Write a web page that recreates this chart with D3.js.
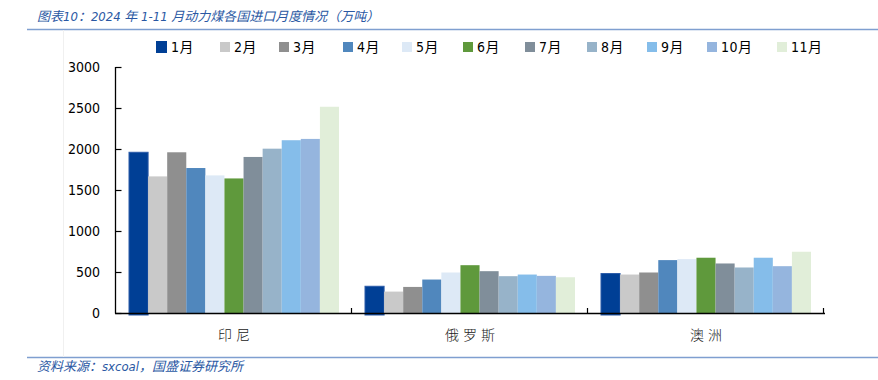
<!DOCTYPE html>
<html>
<head>
<meta charset="utf-8">
<script src="https://cdn.jsdelivr.net/npm/d3@7"></script>
<style>
  body { margin: 0; background: #fff; }
  svg { display: block; }
  .ylab text { font-family: Tahoma, "DejaVu Sans Condensed", "DejaVu Sans", sans-serif; font-size: 14px; fill: #000; }
</style>
</head>
<body>
<div id="container"><svg></svg></div>
<script>
let width = 878;
let height = 380;

// data
let categories = ["印尼", "俄罗斯", "澳洲"];
let months = ["1月", "2月", "3月", "4月", "5月", "6月", "7月", "8月", "9月", "10月", "11月"];
let indonesia = [1960, 1666, 1960, 1768, 1678, 1641, 1903, 2004, 2107, 2123, 2515];
let russia    = [326, 261, 318, 408, 494, 583, 510, 449, 469, 453, 436];
let australia = [481, 469, 494, 645, 657, 674, 604, 555, 674, 571, 747];
let yTicks = [0, 500, 1000, 1500, 2000, 2500, 3000];
let colors = ["#003f95", "#c9c9c9", "#8f8f8f", "#5087bd", "#dde9f6", "#5f993c",
              "#808e9a", "#97b3c9", "#85bdea", "#95b5de", "#e1eed9"];

let series = [indonesia, russia, australia];

let svg = d3.select('#container').select('svg')
    .attr('width', width)
    .attr('height', height);

let blue = "#2a58a3";

// title
svg.append("text")
    .attr("x", 37).attr("y", 21)
    .attr("font-family", "'DejaVu Sans Condensed', 'DejaVu Sans', 'Noto Sans CJK SC', sans-serif")
    .attr("font-style", "italic")
    .attr("font-size", 13)
    .attr("fill", blue)
    .text("图表10：2024 年 1-11 月动力煤各国进口月度情况（万吨）");

svg.append("line")
    .attr("x1", 27).attr("x2", 878).attr("y1", 29.5).attr("y2", 29.5)
    .attr("stroke", "#7f9fd0").attr("stroke-width", 1.5);

svg.append("line")
    .attr("x1", 27).attr("x2", 878).attr("y1", 357.5).attr("y2", 357.5)
    .attr("stroke", "#7f9fd0").attr("stroke-width", 1.5);

// faint frame line
svg.append("line")
    .attr("x1", 63.5).attr("x2", 63.5).attr("y1", 30).attr("y2", 357)
    .attr("stroke", "#f0f0f0").attr("stroke-width", 1);

// source
svg.append("text")
    .attr("x", 37).attr("y", 371)
    .attr("font-family", "'DejaVu Sans Condensed', 'DejaVu Sans', 'Noto Sans CJK SC', sans-serif")
    .attr("font-style", "italic")
    .attr("font-size", 13)
    .attr("fill", blue)
    .text("资料来源：sxcoal，国盛证券研究所");

// scales
let x0 = d3.scaleBand().domain(categories).range([116, 824]).padding(0);
let x1 = d3.scaleBand().domain(months).range([13, 223]).padding(0);
let y = d3.scaleLinear().domain([0, 3000]).range([313, 67]);

// bars
let groups = svg.append("g")
    .selectAll("g")
    .data(categories)
    .join("g")
    .attr("transform", d => "translate(" + x0(d) + ",0)");

groups.selectAll("rect")
    .data((d, i) => months.map((m, j) => ({month: m, value: series[i][j], idx: j})))
    .join("rect")
    .attr("x", d => x1(d.month))
    .attr("y", d => y(d.value))
    .attr("width", x1.bandwidth())
    .attr("height", d => y(0) - y(d.value) + (d.idx == 0 ? 2 : 0))
    .attr("fill", d => colors[d.idx])
    .attr("stroke", d => d.idx == 0 ? "#2a5aa8" : "none")
    .attr("stroke-width", 1);

// y axis
let yAxis = d3.axisRight(y).tickValues(yTicks).tickSize(6).tickFormat("");
svg.append("g")
    .attr("transform", "translate(115.5,0)")
    .call(yAxis)
    .call(g => g.select(".domain").attr("stroke", "#000").attr("stroke-width", 1.3).attr("d", "M0,67V313.5"))
    .call(g => g.selectAll(".tick line").attr("stroke", "#000").attr("stroke-width", 1.2));

svg.append("g")
    .attr("class", "ylab")
    .selectAll("text")
    .data(yTicks)
    .join("text")
    .attr("x", 100)
    .attr("y", d => y(d))
    .attr("dy", "0.36em")
    .attr("text-anchor", "end")
    .text(d => d);

// x axis
let tickXs = [116, 352, 588, 824];
svg.append("line")
    .attr("x1", 115).attr("x2", 825).attr("y1", 313.5).attr("y2", 313.5)
    .attr("stroke", "#000").attr("stroke-width", 1.5);
svg.append("g")
    .selectAll("line")
    .data(tickXs.slice(1))
    .join("line")
    .attr("x1", d => d - 0.5).attr("x2", d => d - 0.5)
    .attr("y1", 313.5).attr("y2", 308)
    .attr("stroke", "#000").attr("stroke-width", 1.2);

svg.append("g")
    .selectAll("text")
    .data(categories)
    .join("text")
    .attr("x", d => x0(d) + x0.bandwidth() / 2 + 2)
    .attr("y", 340)
    .attr("text-anchor", "middle")
    .attr("font-family", "'Noto Sans CJK SC', sans-serif")
    .attr("font-size", 14)
    .attr("font-weight", 300)
    .attr("letter-spacing", 4)
    .attr("fill", "#222")
    .text(d => d);

// legend
let legendX = [156, 220, 279, 343, 402, 463, 525, 587, 647, 707, 777];
let legend = svg.append("g")
    .selectAll("g")
    .data(months)
    .join("g")
    .attr("transform", (d, i) => "translate(" + legendX[i] + ",47)");

legend.append("rect")
    .attr("x", 0)
    .attr("y", (d, i) => i == 0 ? -6 : -5)
    .attr("width", (d, i) => i == 0 ? 11 : 10)
    .attr("height", (d, i) => i == 0 ? 12 : 10)
    .attr("fill", (d, i) => colors[i]);

legend.append("text")
    .attr("x", (d, i) => i == 0 ? 15 : 14)
    .attr("y", 0)
    .attr("dy", "0.36em")
    .attr("font-family", "Tahoma, 'DejaVu Sans Condensed', 'DejaVu Sans', 'Noto Sans CJK SC', sans-serif")
    .attr("font-size", 14)
    .attr("letter-spacing", 0.5)
    .attr("fill", "#000")
    .text(d => d);
</script>
</body>
</html>
